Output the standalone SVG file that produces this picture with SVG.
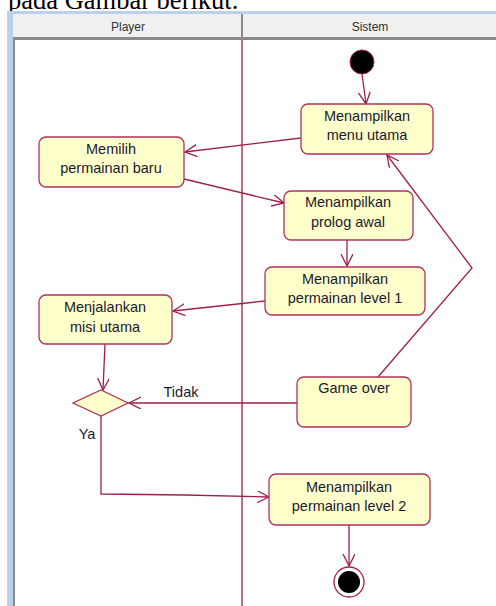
<svg xmlns="http://www.w3.org/2000/svg" width="496" height="606" viewBox="0 0 496 606">
<style>
.node rect{fill:#ffffcc;stroke:#b03060;stroke-width:1.3}
.node text,.lbl{font-family:"Liberation Sans",Arial,sans-serif;font-size:14.5px;fill:#1a1a2e;text-anchor:middle}
.hdr{font-family:"Liberation Sans",Arial,sans-serif;font-size:12px;fill:#333;text-anchor:middle}
#connectors path,#connectors line{fill:none;stroke:#a01e4a;stroke-width:1.3;marker-end:url(#arr)}
</style>
<defs>
<marker id="arr" markerUnits="userSpaceOnUse" markerWidth="14" markerHeight="14" refX="12" refY="6" orient="auto">
<path d="M0,0 L12,6 L0,12" fill="none" stroke="#a01e4a" stroke-width="1.3"/>
</marker>
</defs>
<rect width="496" height="606" fill="#ffffff"/>
<text x="8" y="9" font-family="Liberation Serif,Times New Roman,serif" font-size="26.5" fill="#000">pada Gambar berikut.</text>
<rect x="7" y="11" width="489" height="595" fill="#b9d1ea"/>
<rect x="13" y="14" width="483" height="592" fill="#ffffff"/>
<rect x="13" y="14" width="483" height="24" fill="#f0f0f0"/>
<rect x="13" y="37" width="483" height="3" fill="#8a8a8a"/>
<rect x="13" y="38" width="2" height="568" fill="#8a8a8a"/>
<rect x="241" y="14" width="2" height="24" fill="#8a8a8a"/>
<text class="hdr" x="128" y="31">Player</text>
<text class="hdr" x="370" y="31">Sistem</text>
<line x1="242" y1="40" x2="242" y2="606" stroke="#a01e4a" stroke-width="1.3"/>

<g id="connectors">
<line x1="362" y1="74" x2="366" y2="104"/>
<line x1="301" y1="138" x2="185" y2="152"/>
<line x1="184" y1="179" x2="284" y2="203"/>
<line x1="347" y1="240" x2="347" y2="266"/>
<line x1="265" y1="301" x2="173" y2="311"/>
<line x1="105" y1="344" x2="103" y2="390"/>
<line x1="297" y1="403" x2="129" y2="403"/>
<path d="M378,377 L472,268 L387,155"/>
<path d="M101,416 L101,494 L185,495 L269,497"/>
<line x1="349" y1="525" x2="349" y2="566"/>
</g>
<text class="lbl" x="181" y="397">Tidak</text>
<text class="lbl" x="87" y="439">Ya</text>

<g id="start"><circle cx="362" cy="62" r="12" fill="#000" stroke="#a01e4a" stroke-width="1"/></g>
<g id="menu" class="node"><rect x="301" y="104" width="132" height="50" rx="7"/><text x="367" y="121">Menampilkan</text><text x="367" y="140">menu utama</text></g>
<g id="memilih" class="node"><rect x="39" y="137" width="145" height="50" rx="7"/><text x="111" y="154">Memilih</text><text x="111" y="173">permainan baru</text></g>
<g id="prolog" class="node"><rect x="284" y="191" width="129" height="49" rx="7"/><text x="348" y="207">Menampilkan</text><text x="348" y="227">prolog awal</text></g>
<g id="level1" class="node"><rect x="265" y="267" width="160" height="48" rx="7"/><text x="345" y="284">Menampilkan</text><text x="345" y="303">permainan level 1</text></g>
<g id="misi" class="node"><rect x="39" y="295" width="133" height="49" rx="7"/><text x="105" y="312">Menjalankan</text><text x="105" y="332">misi utama</text></g>
<g id="decision"><polygon points="101,390 128,403 101,416 73,403" fill="#ffffcc" stroke="#b03060" stroke-width="1.3"/></g>
<g id="gameover" class="node"><rect x="297" y="377" width="114" height="50" rx="7"/><text x="354" y="393">Game over</text></g>
<g id="level2" class="node"><rect x="269" y="474" width="161" height="51" rx="7"/><text x="349" y="492">Menampilkan</text><text x="349" y="511">permainan level 2</text></g>
<g id="end"><circle cx="349" cy="582" r="15" fill="#fff" stroke="#a01e4a" stroke-width="1.3"/><circle cx="349" cy="582" r="11" fill="#000"/></g>
</svg>
